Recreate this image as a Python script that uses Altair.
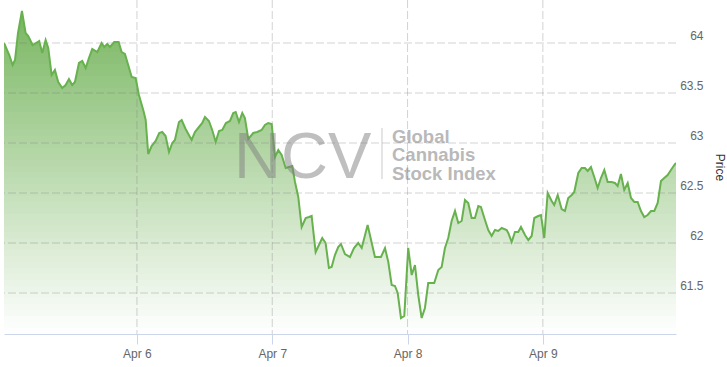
import altair as alt
import pandas as pd

# minutes after 2021-04-05 00:00
minutes = [
    25, 81, 117, 142, 174, 216, 255, 283, 330, 365,
    400, 432, 468, 496, 532, 567, 602, 645, 681, 716,
    751, 780, 823, 858, 894, 929, 964, 1018, 1064, 1092,
    1124, 1153, 1198, 1245, 1277, 1312, 1347, 1384, 1426, 1461,
    1507, 1533, 1560, 1596, 1639, 1677, 1709, 1745, 1781, 1816,
    1844, 1887, 1916, 1958, 2022, 2057, 2100, 2135, 2164, 2206,
    2241, 2278, 2313, 2348, 2387, 2430, 2465, 2491, 2526, 2561,
    2589, 2625, 2678, 2720, 2767, 2802, 2837, 2874, 2909, 2944,
    2980, 3023, 3058, 3093, 3122, 3157, 3193, 3236, 3271, 3299,
    3342, 3377, 3412, 3448, 3483, 3512, 3547, 3582, 3611, 3654,
    3707, 3750, 3795, 3832, 3895, 3973, 4037, 4080, 4115, 4151,
    4186, 4215, 4250, 4285, 4327, 4364, 4399, 4434, 4470, 4505,
    4540, 4604, 4647, 4683, 4718, 4753, 4789, 4825, 4860, 4896,
    4931, 4966, 5002, 5037, 5073, 5101, 5144, 5179, 5215, 5250,
    5285, 5322, 5375, 5392, 5428, 5463, 5498, 5527, 5570, 5605,
    5641, 5669, 5711, 5740, 5775, 5811, 5854, 5881, 5918, 5960,
    5995, 6030, 6067, 6094, 6137, 6173, 6208, 6237, 6272, 6307,
    6343, 6378, 6414, 6450, 6492, 6527, 6556, 6591, 6626, 6663,
    6698, 6733, 6769, 6804, 6839, 6875, 6911, 6946, 6982, 7017,
    7052, 7088, 7123, 7159, 7177,
]

price = [
    64.00, 63.88, 63.78, 63.83, 64.10, 64.32, 64.10, 64.07, 63.98, 64.00,
    64.02, 63.90, 64.03, 63.95, 63.68, 63.73, 63.61, 63.55, 63.58, 63.64,
    63.58, 63.61, 63.80, 63.82, 63.75, 63.85, 63.94, 63.91, 64.00, 63.96,
    63.99, 63.96, 64.01, 64.01, 63.91, 63.89, 63.78, 63.66, 63.65, 63.48,
    63.33, 63.23, 62.89, 62.97, 63.02, 63.10, 63.11, 63.07, 62.91, 63.00,
    63.03, 63.21, 63.23, 63.14, 63.03, 63.11, 63.16, 63.20, 63.26, 63.22,
    63.13, 63.01, 63.12, 63.13, 63.20, 63.22, 63.30, 63.31, 63.21, 63.30,
    63.25, 63.04, 63.10, 63.11, 63.13, 63.18, 63.20, 63.19, 62.86, 62.93,
    62.88, 62.75, 62.76, 62.77, 62.61, 62.46, 62.16, 62.25, 62.26, 62.27,
    61.91, 61.98, 62.05, 62.00, 61.75, 61.76, 61.88, 61.96, 61.99, 61.89,
    61.86, 61.95, 62.00, 61.95, 62.18, 61.86, 61.86, 61.95, 61.81, 61.58,
    61.57, 61.50, 61.25, 61.27, 61.95, 61.68, 61.78, 61.48, 61.25, 61.35,
    61.60, 61.60, 61.73, 61.76, 61.95, 62.05, 62.22, 62.32, 62.20, 62.22,
    62.43, 62.40, 62.25, 62.25, 62.37, 62.36, 62.23, 62.13, 62.07, 62.13,
    62.12, 62.15, 62.13, 62.10, 62.01, 62.11, 62.11, 62.16, 62.08, 62.03,
    62.07, 62.25, 62.27, 62.28, 62.05, 62.50, 62.42, 62.38, 62.48, 62.34,
    62.32, 62.45, 62.48, 62.51, 62.70, 62.75, 62.75, 62.72, 62.76, 62.66,
    62.55, 62.65, 62.73, 62.61, 62.61, 62.60, 62.57, 62.69, 62.53, 62.60,
    62.45, 62.41, 62.41, 62.32, 62.26, 62.28, 62.32, 62.32, 62.40, 62.62,
    62.65, 62.68, 62.73, 62.78, 62.80,
]

y_ticks = [61.5, 62, 62.5, 63, 63.5, 64]
day_ticks = [6, 7, 8, 9]
watermark_big = "NCV"
watermark_lines = ["Global", "Cannabis", "Stock Index"]

start = pd.Timestamp("2021-04-05 00:00")
df = pd.DataFrame({
    "time": [start + pd.Timedelta(minutes=m) for m in minutes],
    "price": price,
})

FONT = "Liberation Sans"
AXIS_LINE = "#ccd6eb"
Y_MIN, Y_MAX = 61.09, 64.43

x_scale = alt.Scale(domain=[alt.DateTime(year=2021, month=4, date=5, hours=0, minutes=25),
                            alt.DateTime(year=2021, month=4, date=9, hours=23, minutes=37)])
y_scale = alt.Scale(domain=[Y_MIN, Y_MAX], zero=False, nice=False)

x_axis = alt.Axis(
    values=[alt.DateTime(year=2021, month=4, date=d) for d in day_ticks],
    format="%b %-d", grid=False,
    domainColor=AXIS_LINE, tickColor=AXIS_LINE, tickSize=10,
    labelColor="#666666", labelFontSize=12, labelFont=FONT,
    labelPadding=4, title=None,
)

y_axis = alt.Axis(
    orient="right", values=y_ticks, format="~g", grid=False,
    domain=False, ticks=False,
    labelAlign="right", labelPadding=27, labelBaseline="alphabetic",
    labelOffset=-4, labelColor="#666666", labelFontSize=12, labelFont=FONT,
    title="Price", titleAngle=90, titleX=43, titleY=167,
    titleAlign="center", titleBaseline="middle",
    titleColor="#333333", titleFontSize=12, titleFontWeight="normal",
    titleFont=FONT,
)

X = alt.X("time:T", scale=x_scale, axis=x_axis)

# vertical gradient fill (white at bottom -> green at top), built as stacked bands
TOP_RGB = (120, 182, 96)
N_BANDS = 54
band_h = (64.33 - Y_MIN) / N_BANDS
fill_layers = []
for k in reversed(range(N_BANDS)):
    hi = Y_MIN + band_h * (k + 1)
    f = (k + 0.5) / N_BANDS
    rgb = tuple(round(255 + (c - 255) * f) for c in TOP_RGB)
    col = "#%02x%02x%02x" % rgb
    expr = "datum.price" if k == N_BANDS - 1 else f"min(datum.price, {hi:.4f})"
    layer = alt.Chart(df).transform_calculate(top=expr).mark_area(
        clip=True, color=col, strokeWidth=0
    ).encode(
        x=X,
        y=alt.Y("top:Q", scale=y_scale, axis=y_axis, title="Price"),
    )
    fill_layers.append(layer)

# dashed grid drawn over the fill (semi-transparent, as in the original)
grid_h = alt.Chart(pd.DataFrame({"v": y_ticks})).mark_rule(
    color="#7a7a7a", opacity=0.33, strokeWidth=1, strokeDash=[8, 3]
).encode(y=alt.Y("v:Q", scale=y_scale, axis=y_axis, title="Price"))

grid_v = alt.Chart(pd.DataFrame({
    "d": [pd.Timestamp(year=2021, month=4, day=d) for d in day_ticks]
})).mark_rule(
    color="#7a7a7a", opacity=0.33, strokeWidth=1, strokeDash=[8, 3]
).encode(x=alt.X("d:T", scale=x_scale, axis=x_axis))

line = alt.Chart(df).mark_line(clip=True, color="#68b14f", strokeWidth=2).encode(
    x=X, y=alt.Y("price:Q", scale=y_scale, axis=y_axis, title="Price")
)

wm = alt.Chart(pd.DataFrame({"big": [watermark_big]}))

wm_big = wm.mark_text(
    font=FONT, fontSize=65, color="#808080", opacity=0.5,
    align="left", baseline="alphabetic",
).encode(text="big:N", x=alt.value(230), y=alt.value(178))

wm_sep = wm.mark_rule(color="#bdbdbd", strokeWidth=1, opacity=0.8).encode(
    x=alt.value(378), y=alt.value(128), y2=alt.value(179)
)

wm_small = []
for i, txt in enumerate(watermark_lines):
    wm_small.append(
        alt.Chart(pd.DataFrame({"t": [txt]})).mark_text(
            font=FONT, fontSize=18.5, fontWeight="bold", color="#808080", opacity=0.55,
            align="left", baseline="alphabetic",
        ).encode(text="t:N", x=alt.value(388), y=alt.value(142.5 + 18.75 * i))
    )

chart = alt.layer(*fill_layers, grid_h, grid_v, line, wm_big, wm_sep, *wm_small).properties(
    width=672, height=334,
    padding={"left": 4, "top": 0, "right": 51, "bottom": 33},
    autosize="none",
).configure(background="white").configure_view(stroke=None)

chart.save("out.html", embed_options={"renderer": "svg", "actions": False})
